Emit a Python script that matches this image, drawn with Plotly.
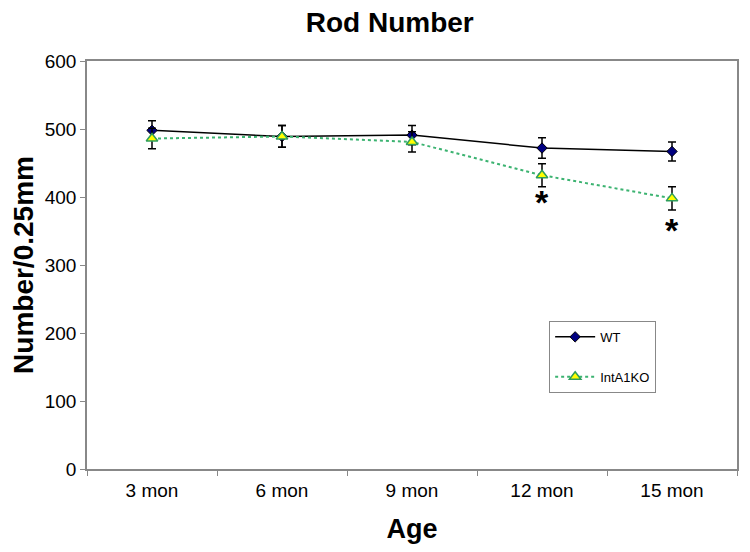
import plotly.graph_objects as go

ages = ["3 mon", "6 mon", "9 mon", "12 mon", "15 mon"]
wt_values = [498, 489, 491, 472, 467]
wt_errors = [14, 16, 14, 15, 14]
ko_values = [486, 489, 481, 432, 398]
ko_errors = [15, 16, 15, 17, 17]
star_ages = ["12 mon", "15 mon"]
star_y = [392, 352]

FONT = "Liberation Sans, Arial, sans-serif"

fig = go.Figure()
fig.add_trace(go.Scatter(
    x=ages, y=wt_values, name="WT", mode="lines+markers",
    line=dict(color="black", width=1.5),
    marker=dict(symbol="diamond", size=8, color="#000080",
                line=dict(color="black", width=1)),
    error_y=dict(type="data", array=wt_errors, color="black", thickness=1.5, width=4),
    legendgroup="a",
))
fig.add_trace(go.Scatter(
    x=ages, y=ko_values, name="IntA1KO", mode="lines+markers",
    line=dict(color="#3CB371", width=2, dash="dot"),
    marker=dict(symbol="triangle-up", size=10, color="#FFFF00",
                line=dict(color="#2E9E5B", width=1.5)),
    error_y=dict(type="data", array=ko_errors, color="black", thickness=1.5, width=4),
    legendgroup="b",
))
for a, y in zip(star_ages, star_y):
    fig.add_annotation(x=a, y=y, text="<b>*</b>", showarrow=False,
                       font=dict(family=FONT, size=34, color="black"))

fig.update_layout(
    width=750, height=552,
    margin=dict(l=79, r=21, t=53, b=91, autoexpand=False),
    plot_bgcolor="white", paper_bgcolor="white",
    title=dict(text="<b>Rod Number</b>", x=0.509, xref="container", xanchor="center",
               y=0.975, yanchor="middle",
               font=dict(family=FONT, size=28, color="black")),
    font=dict(family=FONT, color="black"),
    legend=dict(x=0.711, y=0.363, xanchor="left", yanchor="top",
                bordercolor="#888888", borderwidth=1, bgcolor="white",
                font=dict(family=FONT, size=13), tracegroupgap=20,
                itemwidth=40),
    showlegend=True,
)
fig.update_xaxes(
    type="category", range=[-0.5, len(ages) - 0.5],
    tickson="boundaries", ticks="outside", ticklen=5,
    tickcolor="#888888", showline=True, linecolor="#888888", linewidth=1.5,
    mirror=True, showgrid=False, tickfont=dict(family=FONT, size=19),
    automargin=False, ticklabelstandoff=3,
    title=dict(text="<b>Age</b>", font=dict(family=FONT, size=27), standoff=20),
)
fig.update_yaxes(
    range=[0, 600], dtick=100, ticks="outside", ticklen=5, tickcolor="#888888",
    showline=True, linecolor="#888888", linewidth=1.5, mirror=True,
    showgrid=False, zeroline=False, tickfont=dict(family=FONT, size=19),
    automargin=False,
    title=dict(text="<b>Number/0.25mm</b>", font=dict(family=FONT, size=28), standoff=6),
)

fig.write_html("out.html")
